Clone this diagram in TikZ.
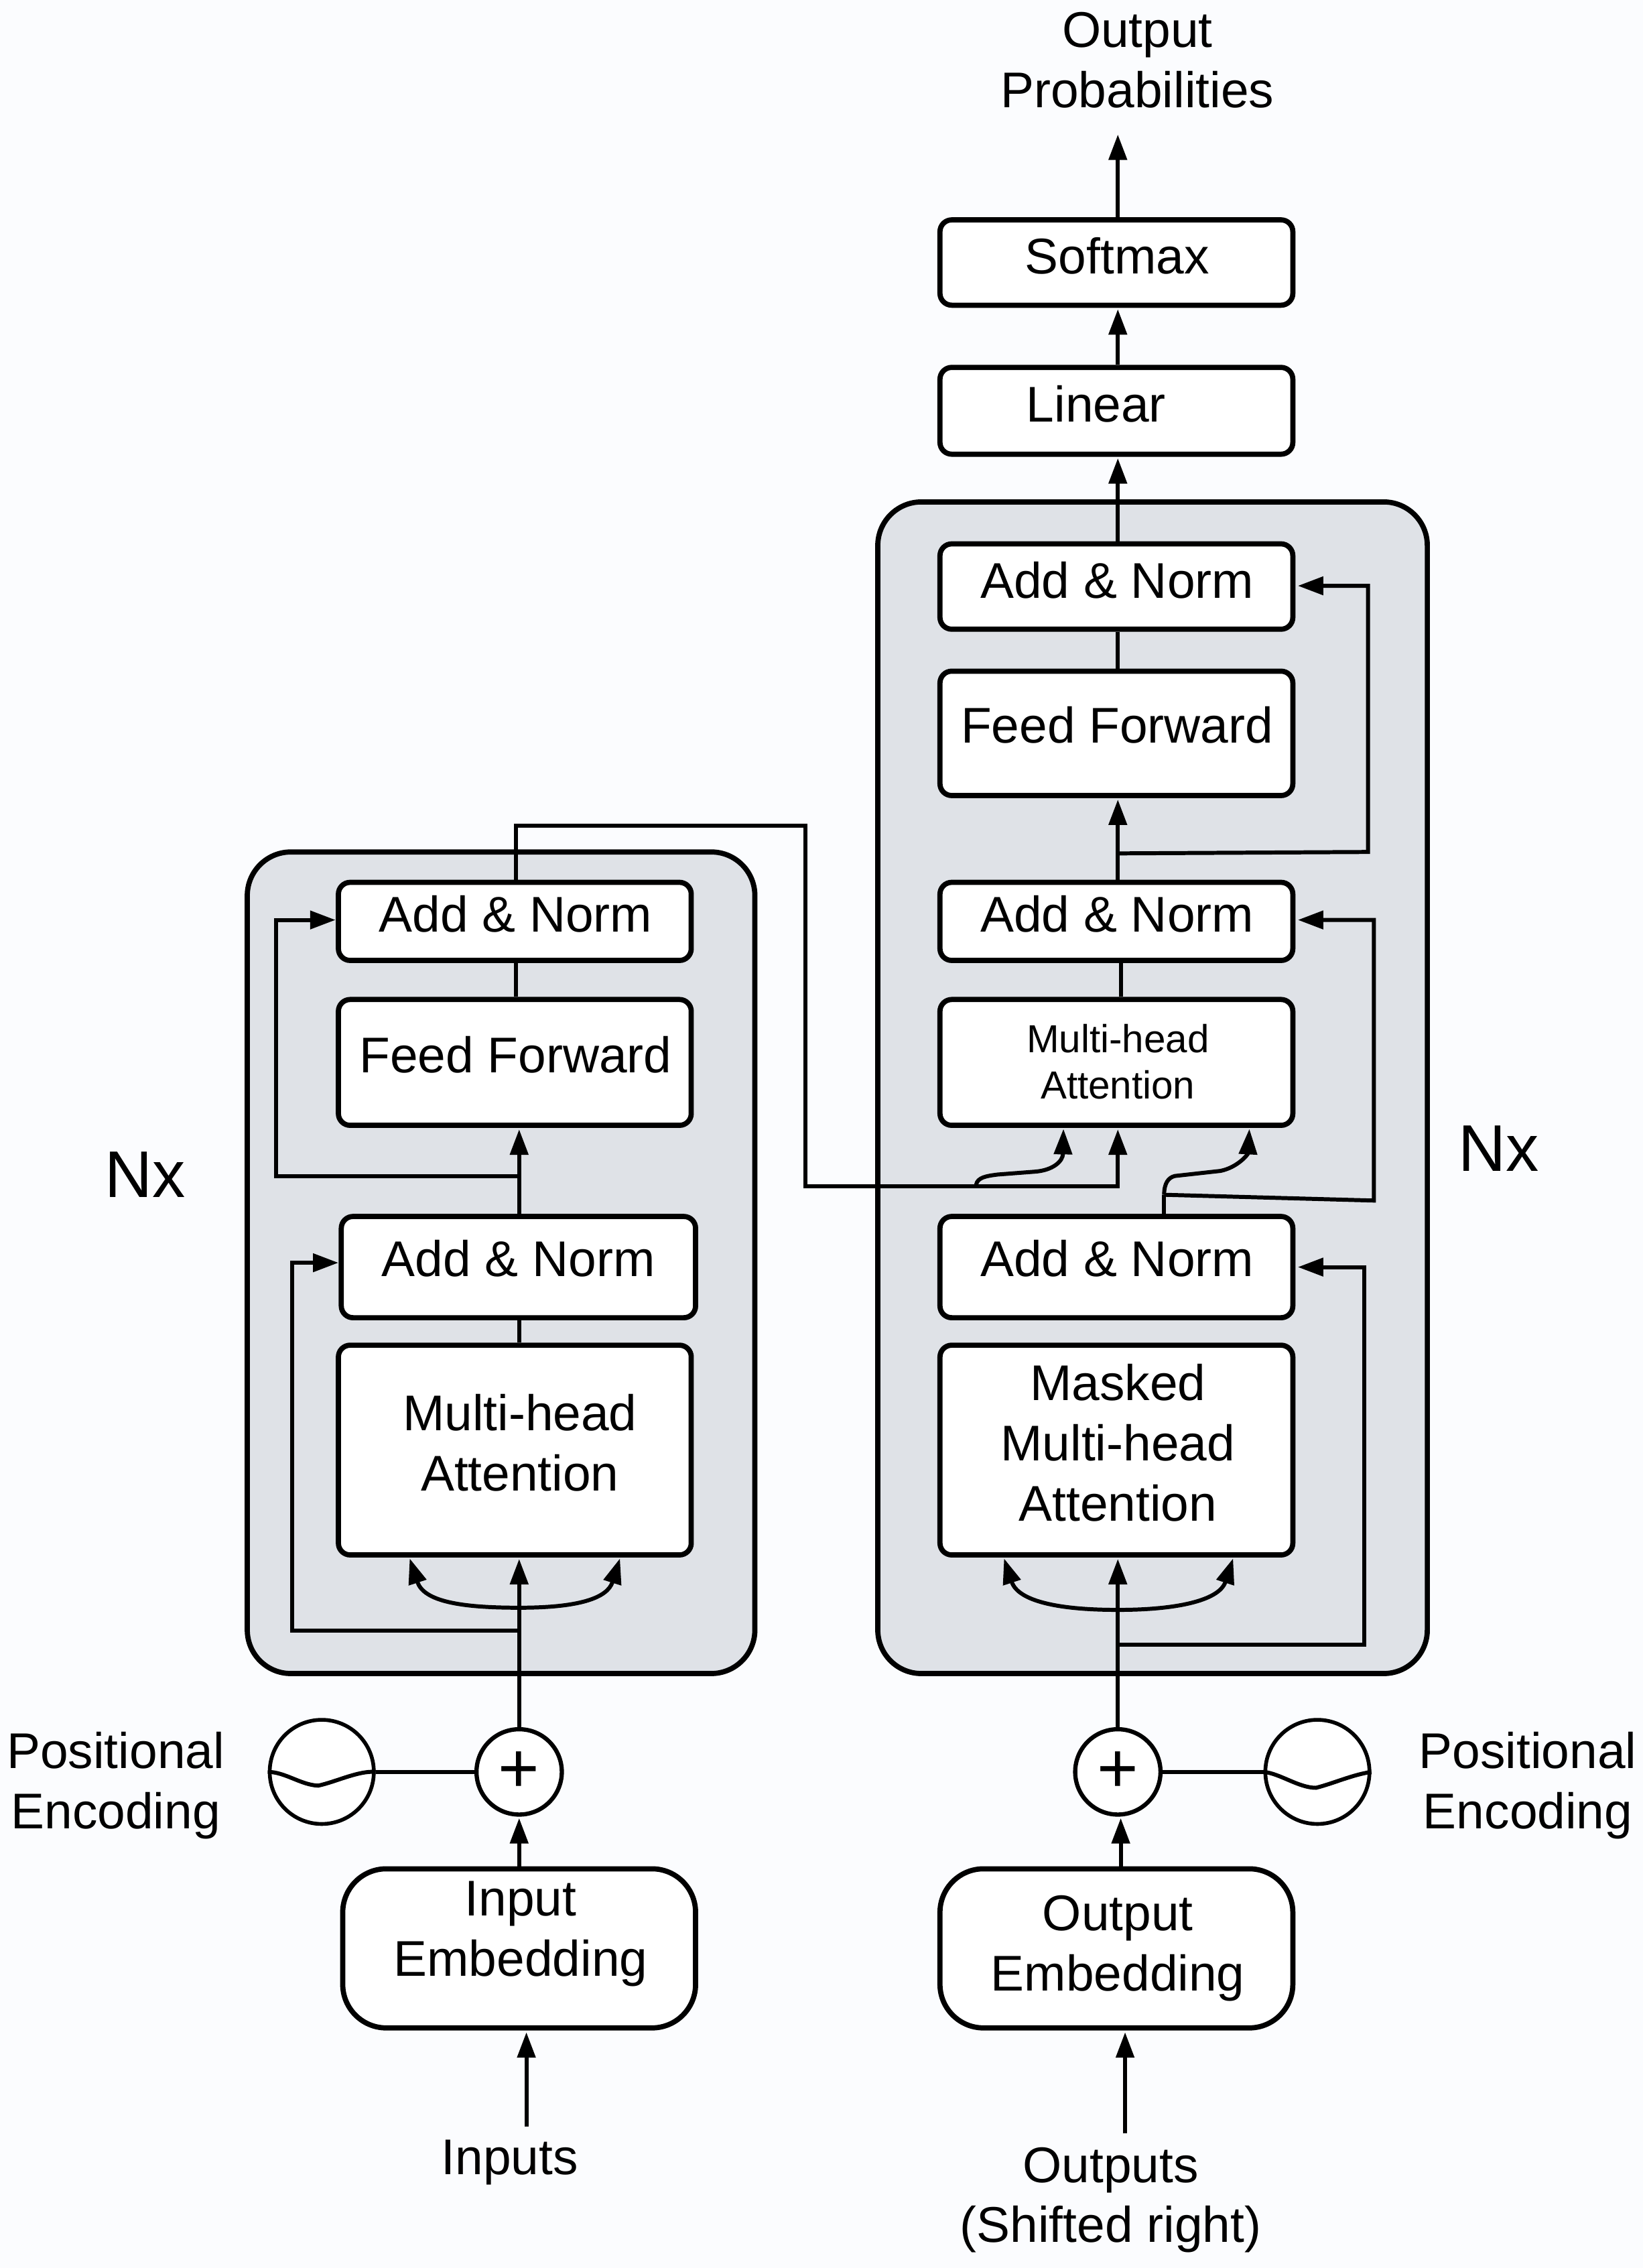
\documentclass[tikz,border=0pt]{standalone}
\usepackage{fontspec}
\setmainfont{Liberation Sans}
\usetikzlibrary{arrows.meta,calc}
\def\u{0.02158cm}
\newcommand\bigf{\fontsize{21.3}{25.5}\selectfont}
\newcommand\smallf{\fontsize{16.6}{19.7}\selectfont}
\newcommand\labfont{\bigf}
\newcommand\mybox[9]{%
  \pgfmathsetmacro\cxv{(#3+#5)/2}%
  \pgfmathsetmacro\cyv{(#4+#6)/2}%
  \node[boxst,#1,minimum width={(#5-#3)*\u},minimum height={(#6-#4)*\u},
    label={[lab,xshift={(#7-\cxv)*\u},yshift={(\cyv-#8)*\u}]center:{#9}}] (#2) at (\cxv,\cyv) {};}
\definecolor{bgc}{HTML}{FBFCFE}
\definecolor{panelc}{HTML}{DFE2E7}
\tikzset{
  boxst/.style={draw=black,fill=white,line width=2.2pt,rounded corners=5pt,inner sep=0pt},
  embbox/.style={rounded corners=18.5pt},
  lab/.style={align=center,inner sep=0pt,text=black,font=\labfont},
  panel/.style={draw=black,fill=panelc,line width=2.2pt,rounded corners=18.5pt,inner sep=0pt},
  conn/.style={draw=black,line width=1.7pt},
  arr/.style={conn,-{Triangle[length=10.8pt,width=7.6pt]},shorten >=0.6pt},
  txt/.style={font=\bigf,align=center,inner sep=0pt,text=black},
  circ/.style={circle,draw=black,fill=white,line width=1.6pt,inner sep=0pt},
  plusc/.style={circ,line width=1.8pt,minimum size={59*\u},font=\fontsize{30}{30}\selectfont},
  pec/.style={circ,minimum size={72*\u}},
}
\begin{document}
\begin{tikzpicture}[x=0.021576cm,y=-0.021582cm]
\fill[bgc] (0,0) rectangle (1136,1568);
\useasboundingbox (0,0) rectangle (1136,1568);
% panels
\node[panel,minimum width={351*\u},minimum height={568*\u}] (encG) at (346.5,873) {};
\node[panel,minimum width={380*\u},minimum height={810*\u}] (decG) at (797,752) {};
% boxes
\mybox{}{sm}{650}{152}{894}{211}{772.5}{177}{Softmax}
\mybox{}{ln}{650}{254}{894}{314}{758}{279.5}{Linear}
\mybox{}{dA3}{650}{376}{894}{435}{772.5}{401}{Add \& Norm}
\mybox{}{dF}{650}{464}{894}{550}{772.5}{501}{Feed Forward}
\mybox{}{dA2}{650}{610}{894}{664}{772.5}{632}{Add \& Norm}
\begingroup\renewcommand\labfont{\smallf}
\mybox{}{dM}{650}{691}{894}{778}{773}{734}{Multi-head\\Attention}
\endgroup
\mybox{}{dA1}{650}{841}{894}{911}{772.5}{870}{Add \& Norm}
\mybox{}{dMM}{650}{930}{894}{1075}{773}{997.5}{Masked\\Multi-head\\Attention}
\mybox{}{eA2}{234}{610}{478}{664}{356.5}{632}{Add \& Norm}
\mybox{}{eF}{234}{691}{478}{778}{356.5}{729}{Feed Forward}
\mybox{}{eA1}{236}{841}{481}{911}{358.5}{870}{Add \& Norm}
\mybox{}{eM}{234}{930}{478}{1075}{359.5}{997.5}{Multi-head\\Attention}
\mybox{embbox}{iE}{237}{1292}{481}{1402}{360}{1337}{Input\\Embedding}
\mybox{embbox}{oE}{650}{1292}{894}{1402}{773}{1347}{Output\\Embedding}
% circles
\node[plusc] (pL) at (359,1225) {\raisebox{-1pt}{+}};
\node[plusc] (pR) at (773,1225) {\raisebox{-1pt}{+}};
\node[pec] (peL) at (222.5,1225) {};
\node[pec] (peR) at (911,1225) {};
% texts
\node[txt] (tOut) at (786.5,41.5) {Output\\Probabilities};
\node[txt,font=\fontsize{28}{30}\selectfont] (nxL) at (100.5,812) {Nx};
\node[txt,font=\fontsize{28}{30}\selectfont] (nxR) at (1036.5,794) {Nx};
\node[txt] (tPeL) at (80,1234.5) {Positional\\Encoding};
\node[txt] (tPeR) at (1056.5,1234.5) {Positional\\Encoding};
\node[txt] (tIn) at (352.5,1495) {Inputs};
\node[txt] (tOu) at (768,1521) {Outputs\\(Shifted right)};
% guide coordinates
\coordinate (xL) at (359,0);
\coordinate (xLt) at (357,0);
\coordinate (xR) at (773,0);
\coordinate (xRm) at (775,0);
\coordinate (xRs) at (805,0);
% wave glyphs
\draw[conn] (peL.west) .. controls (197,1225) and (208,1234) .. (220,1234.5) .. controls (232,1232) and (248,1224) .. (peL.east);
\draw[conn] (peR.west) .. controls (885,1226) and (898,1236) .. (910,1236) .. controls (922,1233) and (935,1227) .. (peR.east);
% input side
\coordinate (inS) at (364,1470);
\coordinate (inT) at (364,1404);
\draw[arr] (inS) -- (inT);
\coordinate (ouS) at (778,1475);
\coordinate (ouT) at (778,1404);
\draw[arr] (ouS) -- (ouT);
\draw[arr] (iE.north -| xL) -- (pL.south);
\draw[arr] (oE.north -| xRm) -- (pR.south -| xRm);
\draw[conn] (peL.east) -- (pL.west);
\draw[conn] (pR.east) -- (peR.west);
% encoder
\draw[arr] (pL.north) -- (eM.south -| xL);
\coordinate (eArcB) at (359,1111.5);
\coordinate (eTipL) at (283,1076.5);
\coordinate (eTipR) at (429,1076.5);
\draw[arr] (eArcB) .. controls (318,1111.5) and (293,1107) .. (eTipL);
\draw[arr] (eArcB) .. controls (400,1111.5) and (420,1105) .. (eTipR);
\coordinate (eB1) at (359,1127.5);
\coordinate (eB1c) at (202,1127.5);
\coordinate (eB1d) at (202,873);
\coordinate (eB1e) at (235,873);
\draw[arr] (eB1) -- (eB1c) -- (eB1d) -- (eB1e);
\draw[conn] (eM.north -| xL) -- (eA1.south -| xL);
\draw[arr] (eA1.north -| xL) -- (eF.south -| xL);
\coordinate (eB2) at (359,813);
\coordinate (eB2c) at (191,813);
\coordinate (eB2d) at (191,636);
\coordinate (eB2e) at (233,636);
\draw[arr] (eB2) -- (eB2c) -- (eB2d) -- (eB2e);
\draw[conn] (eF.north -| xLt) -- (eA2.south -| xLt);
\coordinate (crA) at (357,571);
\coordinate (crB) at (557,571);
\coordinate (crC) at (557,820);
\coordinate (crD) at (773,820);
\draw[arr] (eA2.north -| xLt) -- (crA) -- (crB) -- (crC) -- (crD) -- (dM.south -| xR);
\coordinate (crE) at (675,819);
\coordinate (crF) at (690,812);
\coordinate (crG) at (716,810);
\coordinate (crH) at (735.4,779.5);
\draw[arr] (crE) .. controls (676,814) and (682,813) .. (crF) -- (crG) .. controls (728,809) and (735,803) .. (crH);
% decoder
\draw[arr] (pR.north) -- (dMM.south -| xR);
\coordinate (dArcB) at (773,1113);
\coordinate (dTipL) at (694,1076.5);
\coordinate (dTipR) at (853,1076.5);
\draw[arr] (dArcB) .. controls (732,1113) and (704,1107) .. (dTipL);
\draw[arr] (dArcB) .. controls (812,1113) and (843,1107) .. (dTipR);
\coordinate (dB1) at (773,1137);
\coordinate (dB1c) at (943.5,1137);
\coordinate (dB1d) at (943.5,876);
\coordinate (dB1e) at (896.5,876);
\draw[arr] (dB1) -- (dB1c) -- (dB1d) -- (dB1e);
\coordinate (dJ) at (805,826);
\coordinate (dJa) at (812.5,813);
\coordinate (dJb) at (844,809.5);
\coordinate (dJt) at (864,779.5);
\draw[conn] (dA1.north -| xRs) -- (dJ);
\draw[arr] (dJ) .. controls (805,818) and (808,814) .. (dJa) -- (dJb) .. controls (856,807) and (863,798) .. (dJt);
\coordinate (dB2c) at (950,830);
\coordinate (dB2d) at (950,636);
\coordinate (dB2e) at (896.5,636);
\draw[arr] (dJ) -- (dB2c) -- (dB2d) -- (dB2e);
\draw[conn] (dM.north -| xRm) -- (dA2.south -| xRm);
\draw[arr] (dA2.north -| xR) -- (dF.south -| xR);
\coordinate (dB3) at (773,590);
\coordinate (dB3c) at (946,589);
\coordinate (dB3d) at (946,405);
\coordinate (dB3e) at (896.5,405);
\draw[arr] (dB3) -- (dB3c) -- (dB3d) -- (dB3e);
\draw[conn] (dF.north -| xR) -- (dA3.south -| xR);
\draw[arr] (dA3.north -| xR) -- (ln.south -| xR);
\draw[arr] (ln.north -| xR) -- (sm.south -| xR);
\coordinate (outT) at (773,92);
\draw[arr] (sm.north -| xR) -- (outT);
\end{tikzpicture}
\end{document}
